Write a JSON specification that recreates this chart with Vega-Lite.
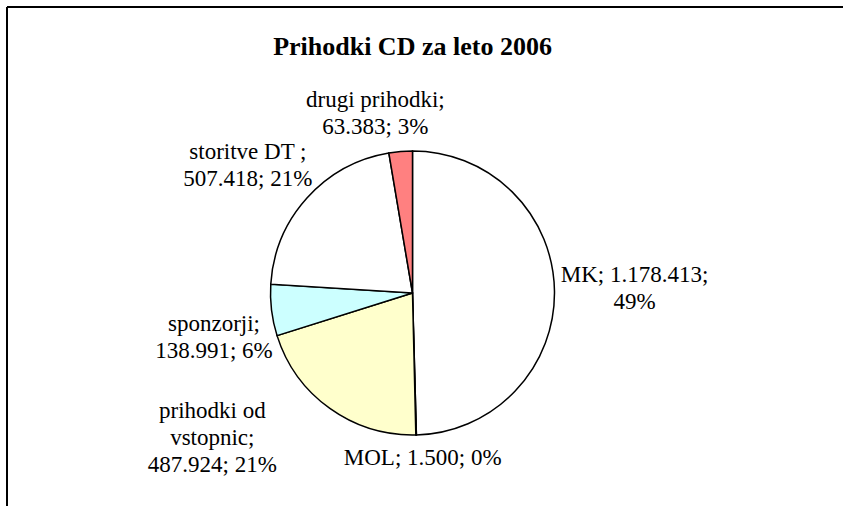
{
  "$schema": "https://vega.github.io/schema/vega-lite/v6.json",
  "width": 811,
  "height": 446,
  "autosize": {"type": "none"},
  "padding": {"left": 7, "top": 70, "right": 25, "bottom": 0},
  "background": "white",
  "config": {
    "view": {"stroke": null},
    "font": "Liberation Serif"
  },
  "title": {
    "text": "Prihodki CD za leto 2006",
    "font": "Liberation Serif",
    "fontSize": 26,
    "fontWeight": "bold",
    "color": "black",
    "anchor": "middle",
    "offset": -83
  },
  "data": {
    "values": [
      {"cat": "MK", "value": 1178413, "order": 1, "label": "MK; 1.178.413;\n49%"},
      {"cat": "MOL", "value": 1500, "order": 2, "label": "MOL; 1.500; 0%"},
      {"cat": "prihodki od vstopnic", "value": 487924, "order": 3, "label": "prihodki od\nvstopnic;\n487.924; 21%"},
      {"cat": "sponzorji", "value": 138991, "order": 4, "label": "sponzorji;\n138.991; 6%"},
      {"cat": "storitve DT", "value": 507418, "order": 5, "label": "storitve DT ;\n507.418; 21%"},
      {"cat": "drugi prihodki", "value": 63383, "order": 6, "label": "drugi prihodki;\n63.383; 3%"}
    ]
  },
  "layer": [
    {
      "encoding": {
        "theta": {"field": "value", "type": "quantitative", "stack": true},
        "order": {"field": "order", "type": "quantitative"}
      },
      "layer": [
        {
          "mark": {"type": "arc", "radius": 142, "stroke": "black", "strokeWidth": 1.5},
          "encoding": {
            "color": {
              "field": "cat",
              "type": "nominal",
              "scale": {
                "domain": ["MK", "MOL", "prihodki od vstopnic", "sponzorji", "storitve DT", "drugi prihodki"],
                "range": ["#FFFFFF", "#FFFFFF", "#FFFFCC", "#CCFFFF", "#FFFFFF", "#FF8080"]
              },
              "legend": null
            }
          }
        },
        {
          "mark": {"type": "text", "radius": 222, "dy": -15, "lineBreak": "\n", "fontSize": 23, "lineHeight": 27, "font": "Liberation Serif", "color": "black", "align": "center", "baseline": "middle"},
          "encoding": {"text": {"condition": {"test": "datum.cat === 'MK'", "field": "label"}, "value": ""}}
        },
        {
          "mark": {"type": "text", "radius": 165, "dx": 6, "lineBreak": "\n", "fontSize": 23, "lineHeight": 27, "font": "Liberation Serif", "color": "black", "align": "center", "baseline": "middle"},
          "encoding": {"text": {"condition": {"test": "datum.cat === 'MOL'", "field": "label"}, "value": ""}}
        },
        {
          "mark": {"type": "text", "radius": 234, "dx": -64, "dy": -72, "lineBreak": "\n", "fontSize": 23, "lineHeight": 27, "font": "Liberation Serif", "color": "black", "align": "center", "baseline": "middle"},
          "encoding": {"text": {"condition": {"test": "datum.cat === 'prihodki od vstopnic'", "field": "label"}, "value": ""}}
        },
        {
          "mark": {"type": "text", "radius": 202, "dx": 2, "dy": 7, "lineBreak": "\n", "fontSize": 23, "lineHeight": 27, "font": "Liberation Serif", "color": "black", "align": "center", "baseline": "middle"},
          "encoding": {"text": {"condition": {"test": "datum.cat === 'sponzorji'", "field": "label"}, "value": ""}}
        },
        {
          "mark": {"type": "text", "radius": 208, "dx": -10, "dy": -2, "lineBreak": "\n", "fontSize": 23, "lineHeight": 27, "font": "Liberation Serif", "color": "black", "align": "center", "baseline": "middle"},
          "encoding": {"text": {"condition": {"test": "datum.cat === 'storitve DT'", "field": "label"}, "value": ""}}
        },
        {
          "mark": {"type": "text", "radius": 181, "dx": -22, "dy": -13, "lineBreak": "\n", "fontSize": 23, "lineHeight": 27, "font": "Liberation Serif", "color": "black", "align": "center", "baseline": "middle"},
          "encoding": {"text": {"condition": {"test": "datum.cat === 'drugi prihodki'", "field": "label"}, "value": ""}}
        }
      ]
    },
    {
      "mark": {"type": "rule", "stroke": "black", "strokeWidth": 2},
      "encoding": {"x": {"value": 0}, "x2": {"value": {"expr": "width + 40"}}, "y": {"value": {"expr": "-63"}}}
    },
    {
      "mark": {"type": "rule", "stroke": "black", "strokeWidth": 2},
      "encoding": {"x": {"value": 0}, "y": {"value": {"expr": "-63"}}, "y2": {"value": {"expr": "height + 20"}}}
    }
  ]
}
